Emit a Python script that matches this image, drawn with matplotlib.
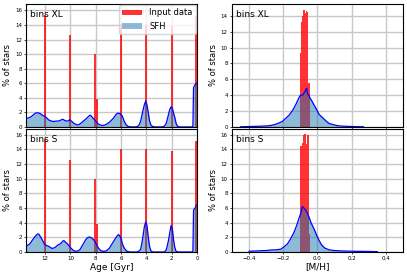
import matplotlib.pyplot as plt
import numpy as np

# input ages (Gyr) and percentages, same for both binnings
input_age = [12.0, 10.0, 8.08, 7.93, 6.0, 4.0, 2.0, 0.08]
input_age_pct = [15.4, 12.6, 10.0, 3.8, 14.1, 14.0, 13.8, 15.2]

# recovered SFH, bins XL
age_xl = [13.5, 13.3, 13.1, 12.9, 12.75, 12.55, 12.35, 12.2, 12.0, 11.85, 11.7, 11.5, 11.3, 11.1,
          10.9, 10.75, 10.6, 10.45, 10.3, 10.15, 10.05, 9.95, 9.85, 9.7, 9.55, 9.4, 9.25, 9.1,
          8.95, 8.8, 8.65, 8.5, 8.42, 8.3, 8.15, 8.0, 7.85, 7.7, 7.5, 7.3, 7.1, 6.95, 6.8,
          6.65, 6.5, 6.35, 6.2, 6.05, 5.9, 5.75, 5.6, 5.45, 5.3, 5.1, 4.9, 4.7, 4.55, 4.45,
          4.35, 4.25, 4.15, 4.05, 3.95, 3.85, 3.75, 3.65, 3.5, 3.3, 2.8, 2.6, 2.45, 2.35,
          2.25, 2.15, 2.05, 1.95, 1.85, 1.75, 1.65, 1.55, 1.4, 0.4, 0.32, 0.27, 0.15, 0.05, 0.0]
sfh_xl = [1.15, 1.25, 1.4, 1.7, 1.9, 1.95, 1.8, 1.6, 1.45, 1.2, 0.95, 0.8, 0.75, 0.8,
          0.82, 0.95, 1.05, 0.9, 0.8, 0.85, 1.0, 0.85, 0.7, 0.46, 0.35, 0.27, 0.4, 0.6,
          0.85, 1.05, 1.3, 1.55, 1.62, 1.4, 1.1, 0.8, 0.5, 0.3, 0.2, 0.25, 0.42, 0.6, 0.85,
          1.1, 1.45, 1.8, 1.9, 1.8, 1.5, 0.8, 0.3, 0.08, 0.02, 0.0, 0.0, 0.05, 0.35, 0.8,
          1.6, 2.4, 3.1, 3.55, 3.0, 2.0, 0.9, 0.3, 0.05, 0.0, 0.0, 0.08, 0.4, 1.0,
          1.7, 2.4, 2.75, 2.6, 1.9, 1.3, 0.5, 0.12, 0.0, 0.0, 0.1, 5.4, 5.8, 6.0, 6.05]

# recovered SFH, bins S
age_s = [13.5, 13.35, 13.2, 13.05, 12.9, 12.75, 12.6, 12.5, 12.35, 12.2, 12.05, 11.9, 11.75,
         11.6, 11.45, 11.3, 11.15, 11.0, 10.85, 10.7, 10.6, 10.5, 10.4, 10.25, 10.1, 10.0,
         9.85, 9.7, 9.55, 9.4, 9.25, 9.1, 8.95, 8.8, 8.65, 8.5, 8.35, 8.2, 8.05, 7.9, 7.75,
         7.6, 7.4, 7.2, 7.05, 6.9, 6.75, 6.6, 6.45, 6.3, 6.2, 6.1, 6.0, 5.9, 5.8, 5.65, 5.5,
         5.3, 4.75, 4.6, 4.45, 4.35, 4.25, 4.15, 4.05, 3.95, 3.85, 3.75, 3.65, 3.5, 2.6,
         2.45, 2.35, 2.25, 2.15, 2.05, 1.95, 1.85, 1.75, 1.65, 1.5, 0.4, 0.32, 0.27, 0.15,
         0.05, 0.0]
sfh_s = [0.8, 0.95, 1.1, 1.5, 1.85, 2.2, 2.45, 2.45, 2.05, 1.6, 1.1, 0.9, 0.8,
         0.65, 0.48, 0.55, 0.7, 0.95, 1.05, 1.25, 1.5, 1.55, 1.35, 1.15, 0.85, 0.6,
         0.35, 0.15, 0.1, 0.15, 0.3, 0.75, 1.2, 1.65, 1.95, 2.05, 1.95, 1.75, 1.4, 0.9, 0.45,
         0.2, 0.1, 0.12, 0.3, 0.55, 1.0, 1.4, 1.85, 2.2, 2.38, 2.2, 1.85, 1.2, 0.7, 0.3, 0.08,
         0.0, 0.0, 0.1, 0.35, 1.2, 2.3, 3.5, 4.1, 3.6, 2.1, 0.8, 0.2, 0.0, 0.0,
         0.2, 0.8, 1.6, 2.6, 3.6, 3.2, 1.7, 0.6, 0.1, 0.0, 0.0, 0.15, 5.7, 6.0,
         6.4, 6.4]

# input metallicity histograms
mh_in_xl = [-0.104, -0.099, -0.094, -0.089, -0.084, -0.079, -0.074, -0.069, -0.064, -0.059, -0.054, -0.049]
mh_in_xl_pct = [9.3, 9.3, 13.2, 14.0, 14.7, 14.7, 14.4, 14.6, 14.2, 14.5, 5.5, 5.5]
mh_in_s = [-0.102, -0.097, -0.092, -0.087, -0.082, -0.077, -0.072, -0.067, -0.062, -0.057, -0.052, -0.047]
mh_in_s_pct = [14.5, 14.5, 14.9, 14.9, 16.0, 16.1, 16.1, 14.7, 16.0, 16.0, 2.4, 2.4]

# recovered metallicity distribution
mh_xl = [-0.45, -0.40, -0.35, -0.30, -0.27, -0.25, -0.225, -0.205, -0.185, -0.165, -0.145, -0.125,
         -0.11, -0.10, -0.09, -0.083, -0.075, -0.063, -0.057, -0.05, -0.043, -0.036, -0.021,
         -0.005, 0.009, 0.028, 0.048, 0.067, 0.09, 0.12, 0.15, 0.2, 0.27]
mdf_xl = [0.02, 0.05, 0.08, 0.12, 0.2, 0.3, 0.5, 0.7, 1.1, 1.5, 2.1, 2.9,
          3.6, 4.0, 4.0, 4.1, 4.4, 4.9, 4.1, 4.0, 3.6, 3.4, 2.8,
          2.2, 1.6, 1.2, 0.8, 0.45, 0.3, 0.15, 0.1, 0.05, 0.02]
mh_s = [-0.40, -0.35, -0.30, -0.27, -0.24, -0.215, -0.196, -0.176, -0.157, -0.137, -0.122, -0.108,
        -0.098, -0.088, -0.079, -0.069, -0.059, -0.05, -0.036, -0.021, -0.005, 0.009, 0.023,
        0.042, 0.067, 0.096, 0.135, 0.2, 0.28, 0.35]
mdf_s = [0.1, 0.15, 0.2, 0.28, 0.3, 0.38, 0.7, 1.1, 1.8, 2.7, 3.6, 4.6,
         5.3, 6.2, 6.0, 5.7, 5.3, 4.8, 3.9, 3.2, 2.3, 1.6, 1.0,
         0.55, 0.3, 0.2, 0.15, 0.1, 0.08, 0.05]

plt.rcParams['font.size'] = 6

fig, axes = plt.subplots(2, 2, figsize=(4.07, 2.76), dpi=100, sharex='col')
fig.subplots_adjust(left=0.064, right=0.990, top=0.986, bottom=0.087, wspace=0.205, hspace=0.016)


def panel(ax, xin, yin, width, x, y, tag):
    ax.set_axisbelow(True)
    bars = ax.bar(xin, yin, width, align='edge' if width < 0.01 else 'center',
                  color='red', alpha=0.8, linewidth=0, label='Input data')
    fill = ax.fill_between(x, y, color='tab:blue', alpha=0.5, linewidth=0, label='SFH')
    ax.plot(x, y, color='blue', linewidth=0.9)
    ax.grid(True, color='#c8c8c8', linewidth=1.0)
    ax.set_ylabel('% of stars', fontsize=6, labelpad=2)
    ax.tick_params(labelsize=4, length=1.5, width=0.5, pad=1.5)
    ax.text(0.025, 0.95, tag, transform=ax.transAxes, va='top', ha='left', fontsize=6.5)
    ax.set_yticks(np.arange(0, 17, 2))
    return bars, fill


b, f = panel(axes[0, 0], input_age, input_age_pct, 0.15, age_xl, sfh_xl, 'bins XL')
panel(axes[1, 0], input_age, input_age_pct, 0.15, age_s, sfh_s, 'bins S')
panel(axes[0, 1], mh_in_xl, mh_in_xl_pct, 0.005, mh_xl, mdf_xl, 'bins XL')
panel(axes[1, 1], mh_in_s, mh_in_s_pct, 0.005, mh_s, mdf_s, 'bins S')

axes[0, 0].legend(handles=[b, f], loc='upper right', fontsize=6, borderaxespad=0.15,
                  handlelength=2.4, framealpha=0.8)

axes[0, 0].set_ylim(0, 16.9)
axes[1, 0].set_ylim(0, 16.8)
axes[0, 1].set_ylim(0, 15.5)
axes[0, 1].set_yticks(np.arange(0, 15, 2))
axes[1, 1].set_ylim(0, 16.8)

axes[1, 0].set_xlim(13.5, 0)
axes[1, 0].set_xticks(np.arange(0, 13, 2))
axes[1, 1].set_xlim(-0.5, 0.5)
axes[1, 1].set_xticks([-0.4, -0.2, 0.0, 0.2, 0.4])

axes[1, 0].set_xlabel('Age [Gyr]', fontsize=6.5, labelpad=1)
axes[1, 1].set_xlabel('[M/H]', fontsize=6.5, labelpad=1)

fig.savefig('out.png', dpi=100)
